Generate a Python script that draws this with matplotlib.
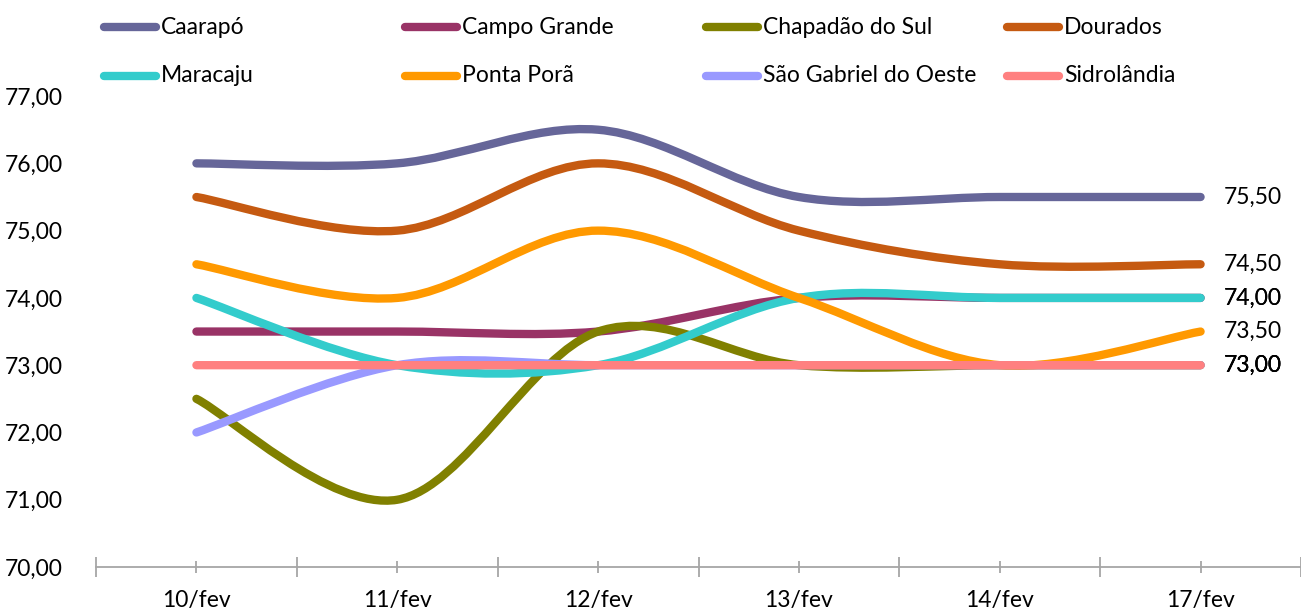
import matplotlib
matplotlib.use('Agg')
import matplotlib.pyplot as plt
from matplotlib.path import Path
from matplotlib.patches import PathPatch
from matplotlib.lines import Line2D
from matplotlib.ticker import FuncFormatter, FixedLocator

plt.rcParams['font.family'] = ['Lato', 'DejaVu Sans']

# Dados
dates = ['10/fev', '11/fev', '12/fev', '13/fev', '14/fev', '17/fev']
names = ['Caarapó', 'Campo Grande', 'Chapadão do Sul', 'Dourados',
         'Maracaju', 'Ponta Porã', 'São Gabriel do Oeste', 'Sidrolândia']
caarapo = [76.0, 76.0, 76.5, 75.5, 75.5, 75.5]
campo_grande = [73.5, 73.5, 73.5, 74.0, 74.0, 74.0]
chapadao = [72.5, 71.0, 73.5, 73.0, 73.0, 73.0]
dourados = [75.5, 75.0, 76.0, 75.0, 74.5, 74.5]
maracaju = [74.0, 73.0, 73.0, 74.0, 74.0, 74.0]
ponta_pora = [74.5, 74.0, 75.0, 74.0, 73.0, 73.5]
sao_gabriel = [72.0, 73.0, 73.0, 73.0, 73.0, 73.0]
sidrolandia = [73.0, 73.0, 73.0, 73.0, 73.0, 73.0]
series = [caarapo, campo_grande, chapadao, dourados,
          maracaju, ponta_pora, sao_gabriel, sidrolandia]
colors = ['#666699', '#993366', '#808000', '#C55A11',
          '#33CCCC', '#FF9900', '#9999FF', '#FF8080']

FS = 16.5


def smooth_path(xs, ys):
    # curva suavizada tipo Excel (Catmull-Rom -> Bezier)
    n = len(xs)
    verts = [(xs[0], ys[0])]
    codes = [Path.MOVETO]
    for i in range(n - 1):
        i0 = max(i - 1, 0)
        i3 = min(i + 2, n - 1)
        c1 = (xs[i] + (xs[i + 1] - xs[i0]) / 6, ys[i] + (ys[i + 1] - ys[i0]) / 6)
        c2 = (xs[i + 1] - (xs[i3] - xs[i]) / 6, ys[i + 1] - (ys[i3] - ys[i]) / 6)
        verts += [c1, c2, (xs[i + 1], ys[i + 1])]
        codes += [Path.CURVE4] * 3
    return Path(verts, codes)


fig = plt.figure(figsize=(13.01, 6.12), dpi=100)
ax = fig.add_axes([0.0738, 0.0735, 0.9262, 0.7695])

x = list(range(len(dates)))
for vals, name, c in zip(series, names, colors):
    patch = PathPatch(smooth_path(x, vals), facecolor='none', edgecolor=c,
                      lw=6.0, capstyle='round', joinstyle='round')
    ax.add_patch(patch)
    ax.annotate(f'{vals[-1]:.2f}'.replace('.', ','), (x[-1], vals[-1]),
                xytext=(17, 0), textcoords='offset points', va='center',
                ha='left', fontsize=FS, annotation_clip=False)

ax.set_xlim(-0.5, len(dates) - 0.5)
ax.set_ylim(70, 77)
ax.set_yticks(range(70, 78))
ax.yaxis.set_major_formatter(FuncFormatter(lambda v, p: f'{v:.2f}'.replace('.', ',')))
ax.tick_params(axis='y', length=0, pad=24, labelsize=FS)

ax.xaxis.set_major_locator(FixedLocator([i - 0.5 for i in range(len(dates) + 1)]))
ax.set_xticklabels([])
ax.set_xticks(x, minor=True)
ax.set_xticklabels(dates, minor=True)
ax.tick_params(axis='x', which='major', direction='inout', length=14, width=1.3, color='#a6a6a6')
ax.tick_params(axis='x', which='minor', direction='inout', length=9, width=1.3,
               color='#a6a6a6', pad=12, labelsize=FS)

for s in ['top', 'right', 'left']:
    ax.spines[s].set_visible(False)
ax.spines['bottom'].set_color('#a6a6a6')
ax.spines['bottom'].set_linewidth(1.3)

# legenda manual (colunas igualmente espaçadas)
W, H = 1301, 612
col_x = [100, 401, 702, 1003]
row_y = [27, 76]
for k, (name, c) in enumerate(zip(names, colors)):
    cx = col_x[k % 4]
    cy = row_y[k // 4]
    fig.add_artist(Line2D([(cx + 4) / W, (cx + 56) / W], [1 - cy / H, 1 - cy / H],
                          color=c, lw=6.0, solid_capstyle='round'))
    fig.text((cx + 61) / W, 1 - cy / H, name, fontsize=FS, va='center', ha='left')

fig.savefig('out.png', dpi=100)
